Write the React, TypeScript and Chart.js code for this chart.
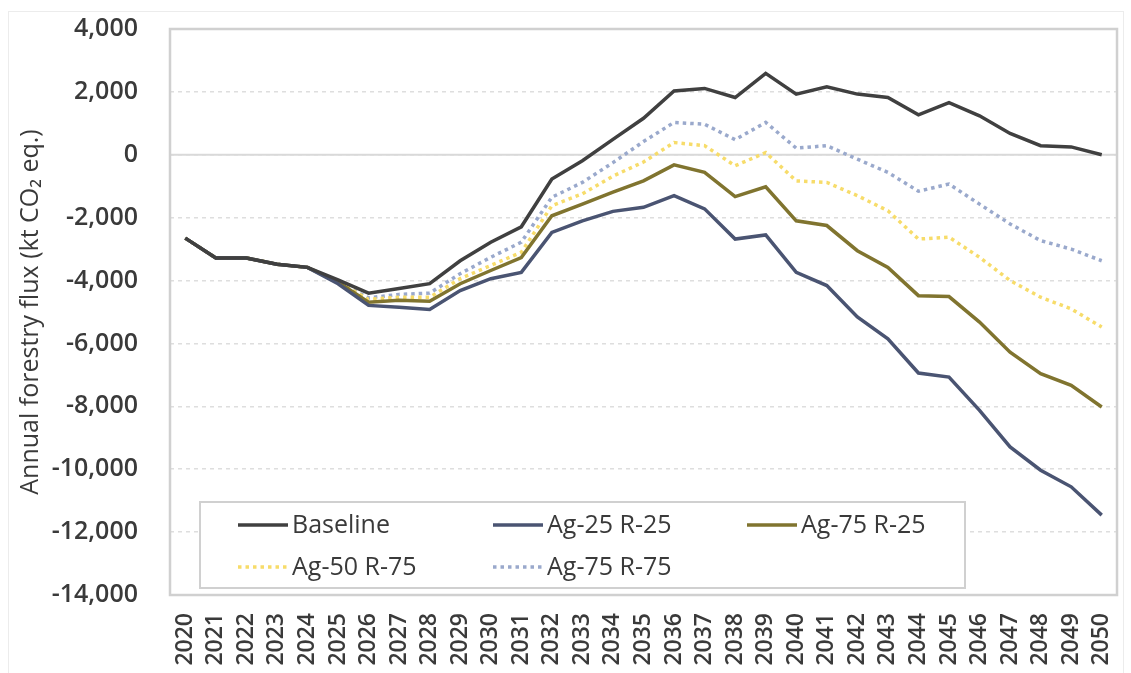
import React, { useEffect, useRef } from "react";
import { Chart, registerables } from "chart.js";

Chart.register(...registerables);

const years = [
  "2020", "2021", "2022", "2023", "2024", "2025", "2026", "2027", "2028", "2029",
  "2030", "2031", "2032", "2033", "2034", "2035", "2036", "2037", "2038", "2039",
  "2040", "2041", "2042", "2043", "2044", "2045", "2046", "2047", "2048", "2049", "2050",
];

const baseline = [
  -2650, -3280, -3280, -3480, -3580, -3980, -4400, -4250, -4100, -3370,
  -2780, -2290, -770, -190, 490, 1160, 2030, 2110, 1820, 2590,
  1930, 2160, 1930, 1820, 1270, 1660, 1240, 680, 290, 250, 0,
];

const ag25r25 = [
  -2650, -3280, -3280, -3480, -3580, -4100, -4790, -4850, -4920, -4320,
  -3940, -3740, -2470, -2100, -1800, -1670, -1300, -1720, -2680, -2550,
  -3740, -4160, -5160, -5850, -6940, -7070, -8130, -9290, -10030, -10560, -11460,
];

const ag75r25 = [
  -2650, -3280, -3280, -3480, -3580, -4050, -4690, -4630, -4660, -4100,
  -3680, -3270, -1940, -1570, -1190, -830, -320, -560, -1330, -1020,
  -2100, -2250, -3050, -3580, -4480, -4510, -5320, -6280, -6960, -7330, -8020,
];

const ag50r75 = [
  -2650, -3280, -3280, -3480, -3580, -4050, -4600, -4530, -4530, -3940,
  -3520, -3100, -1620, -1240, -680, -230, 390, 290, -350, 70,
  -830, -880, -1300, -1780, -2680, -2620, -3260, -4000, -4530, -4900, -5480,
];

const ag75r75 = [
  -2650, -3280, -3280, -3480, -3580, -4050, -4550, -4440, -4400, -3780,
  -3260, -2780, -1350, -880, -250, 420, 1030, 970, 480, 1030,
  210, 290, -140, -560, -1160, -930, -1570, -2200, -2730, -3000, -3370,
];

const seriesNames = ["Baseline", "Ag-25 R-25", "Ag-75 R-25", "Ag-50 R-75", "Ag-75 R-75"];
const yMin = -14000;
const yMax = 4000;
const yStep = 2000;
const yTitle = "Annual forestry flux (kt CO\u2082 eq.)";

const FONT = "'Open Sans', 'Liberation Sans', sans-serif";
const TEXT = "#3a3a3a";

const frameAndZero = {
  id: "frameAndZero",
  beforeDatasetsDraw(chart: any) {
    const { ctx, chartArea, scales } = chart;
    const y0 = scales.y.getPixelForValue(0);
    ctx.save();
    ctx.strokeStyle = "#d9d9d9";
    ctx.lineWidth = 2;
    ctx.setLineDash([]);
    ctx.beginPath();
    ctx.moveTo(chartArea.left, y0);
    ctx.lineTo(chartArea.right, y0);
    ctx.stroke();
    ctx.strokeStyle = "#d0d0d0";
    ctx.lineWidth = 2.5;
    ctx.strokeRect(chartArea.left, chartArea.top, chartArea.right - chartArea.left, chartArea.bottom - chartArea.top);
    ctx.restore();
  },
};

const boxLegend = {
  id: "boxLegend",
  afterDatasetsDraw(chart: any) {
    const { ctx, chartArea } = chart;
    const x0 = chartArea.left + 30;
    const y0 = chartArea.bottom - 93;
    const w = 765;
    const h = 86;
    ctx.save();
    ctx.fillStyle = "#ffffff";
    ctx.fillRect(x0, y0, w, h);
    ctx.strokeStyle = "#d0d0d0";
    ctx.lineWidth = 2;
    ctx.setLineDash([]);
    ctx.strokeRect(x0, y0, w, h);
    const cols = [38, 293, 547];
    const rows = [23, 65];
    ctx.font = `500 25px ${FONT}`;
    ctx.textBaseline = "middle";
    ctx.textAlign = "left";
    chart.data.datasets.forEach((ds: any, i: number) => {
      const cx = x0 + cols[i % 3];
      const cy = y0 + rows[Math.floor(i / 3)];
      ctx.strokeStyle = ds.borderColor;
      ctx.lineWidth = ds.borderWidth;
      ctx.setLineDash(ds.borderDash || []);
      ctx.beginPath();
      ctx.moveTo(cx, cy);
      ctx.lineTo(cx + 50, cy);
      ctx.stroke();
      ctx.setLineDash([]);
      ctx.fillStyle = TEXT;
      ctx.fillText(ds.label, cx + 54, cy + 1);
    });
    ctx.restore();
  },
};

export default function App() {
  const ref = useRef<HTMLCanvasElement>(null);

  useEffect(() => {
    const mk = (label: string, data: number[], color: string, dash?: number[]) => ({
      label,
      data,
      borderColor: color,
      backgroundColor: color,
      borderWidth: 3.5,
      borderDash: dash || [],
      pointRadius: 0,
      tension: 0,
      fill: false,
    });
    const chart = new Chart(ref.current as HTMLCanvasElement, {
      type: "line",
      data: {
        labels: years,
        datasets: [
          mk(seriesNames[0], baseline, "#404040"),
          mk(seriesNames[1], ag25r25, "#4a5472"),
          mk(seriesNames[2], ag75r25, "#80742f"),
          mk(seriesNames[3], ag50r75, "#f7dc6a", [3.5, 4]),
          mk(seriesNames[4], ag75r75, "#9aa9cc", [3.5, 4]),
        ],
      },
      options: {
        responsive: false,
        devicePixelRatio: 1,
        animation: false,
        layout: { padding: { top: 29, right: 14, left: 0, bottom: 0 } },
        plugins: {
          legend: { display: false },
          tooltip: { enabled: false },
        },
        scales: {
          x: {
            offset: true,
            grid: { display: false, drawTicks: false },
            border: { display: false },
            ticks: {
              autoSkip: false,
              minRotation: 90,
              maxRotation: 90,
              padding: 18,
              color: TEXT,
              font: { family: FONT, size: 23, weight: "600" },
            },
            afterFit: (s: any) => {
              s.height = 78;
              s.paddingLeft = 0;
              s.paddingRight = 0;
              s.paddingTop = 0;
              s.paddingBottom = 0;
            },
          },
          y: {
            min: yMin,
            max: yMax,
            grid: { color: "#dedede", lineWidth: 1.5, drawTicks: false },
            border: { display: false, dash: [4, 4] },
            ticks: {
              stepSize: yStep,
              padding: 32,
              color: TEXT,
              font: { family: FONT, size: 25, weight: "600" },
              callback: (v: any) => Number(v).toLocaleString("en-US"),
            },
            title: {
              display: true,
              text: yTitle,
              color: TEXT,
              font: { family: FONT, size: 25 },
              padding: { top: 16, bottom: 0 },
            },
            afterFit: (s: any) => {
              s.width = 170;
              s.paddingLeft = 0;
              s.paddingRight = 0;
              s.paddingTop = 0;
              s.paddingBottom = 0;
            },
          },
        },
      },
      plugins: [frameAndZero, boxLegend],
    });
    return () => chart.destroy();
  }, []);

  return (
    <div style={{ position: "absolute", left: 0, top: 0, width: 1131, height: 673, background: "#fff", overflow: "hidden" }}>
      <div
        style={{
          position: "absolute",
          left: 8,
          top: 11,
          width: 1114,
          height: 700,
          borderTop: "1px solid #ececec",
          borderLeft: "1px solid #ececec",
          borderRight: "1px solid #ececec",
        }}
      />
      <canvas ref={ref} width={1131} height={673} style={{ position: "absolute", left: 0, top: 0 }} />
    </div>
  );
}
